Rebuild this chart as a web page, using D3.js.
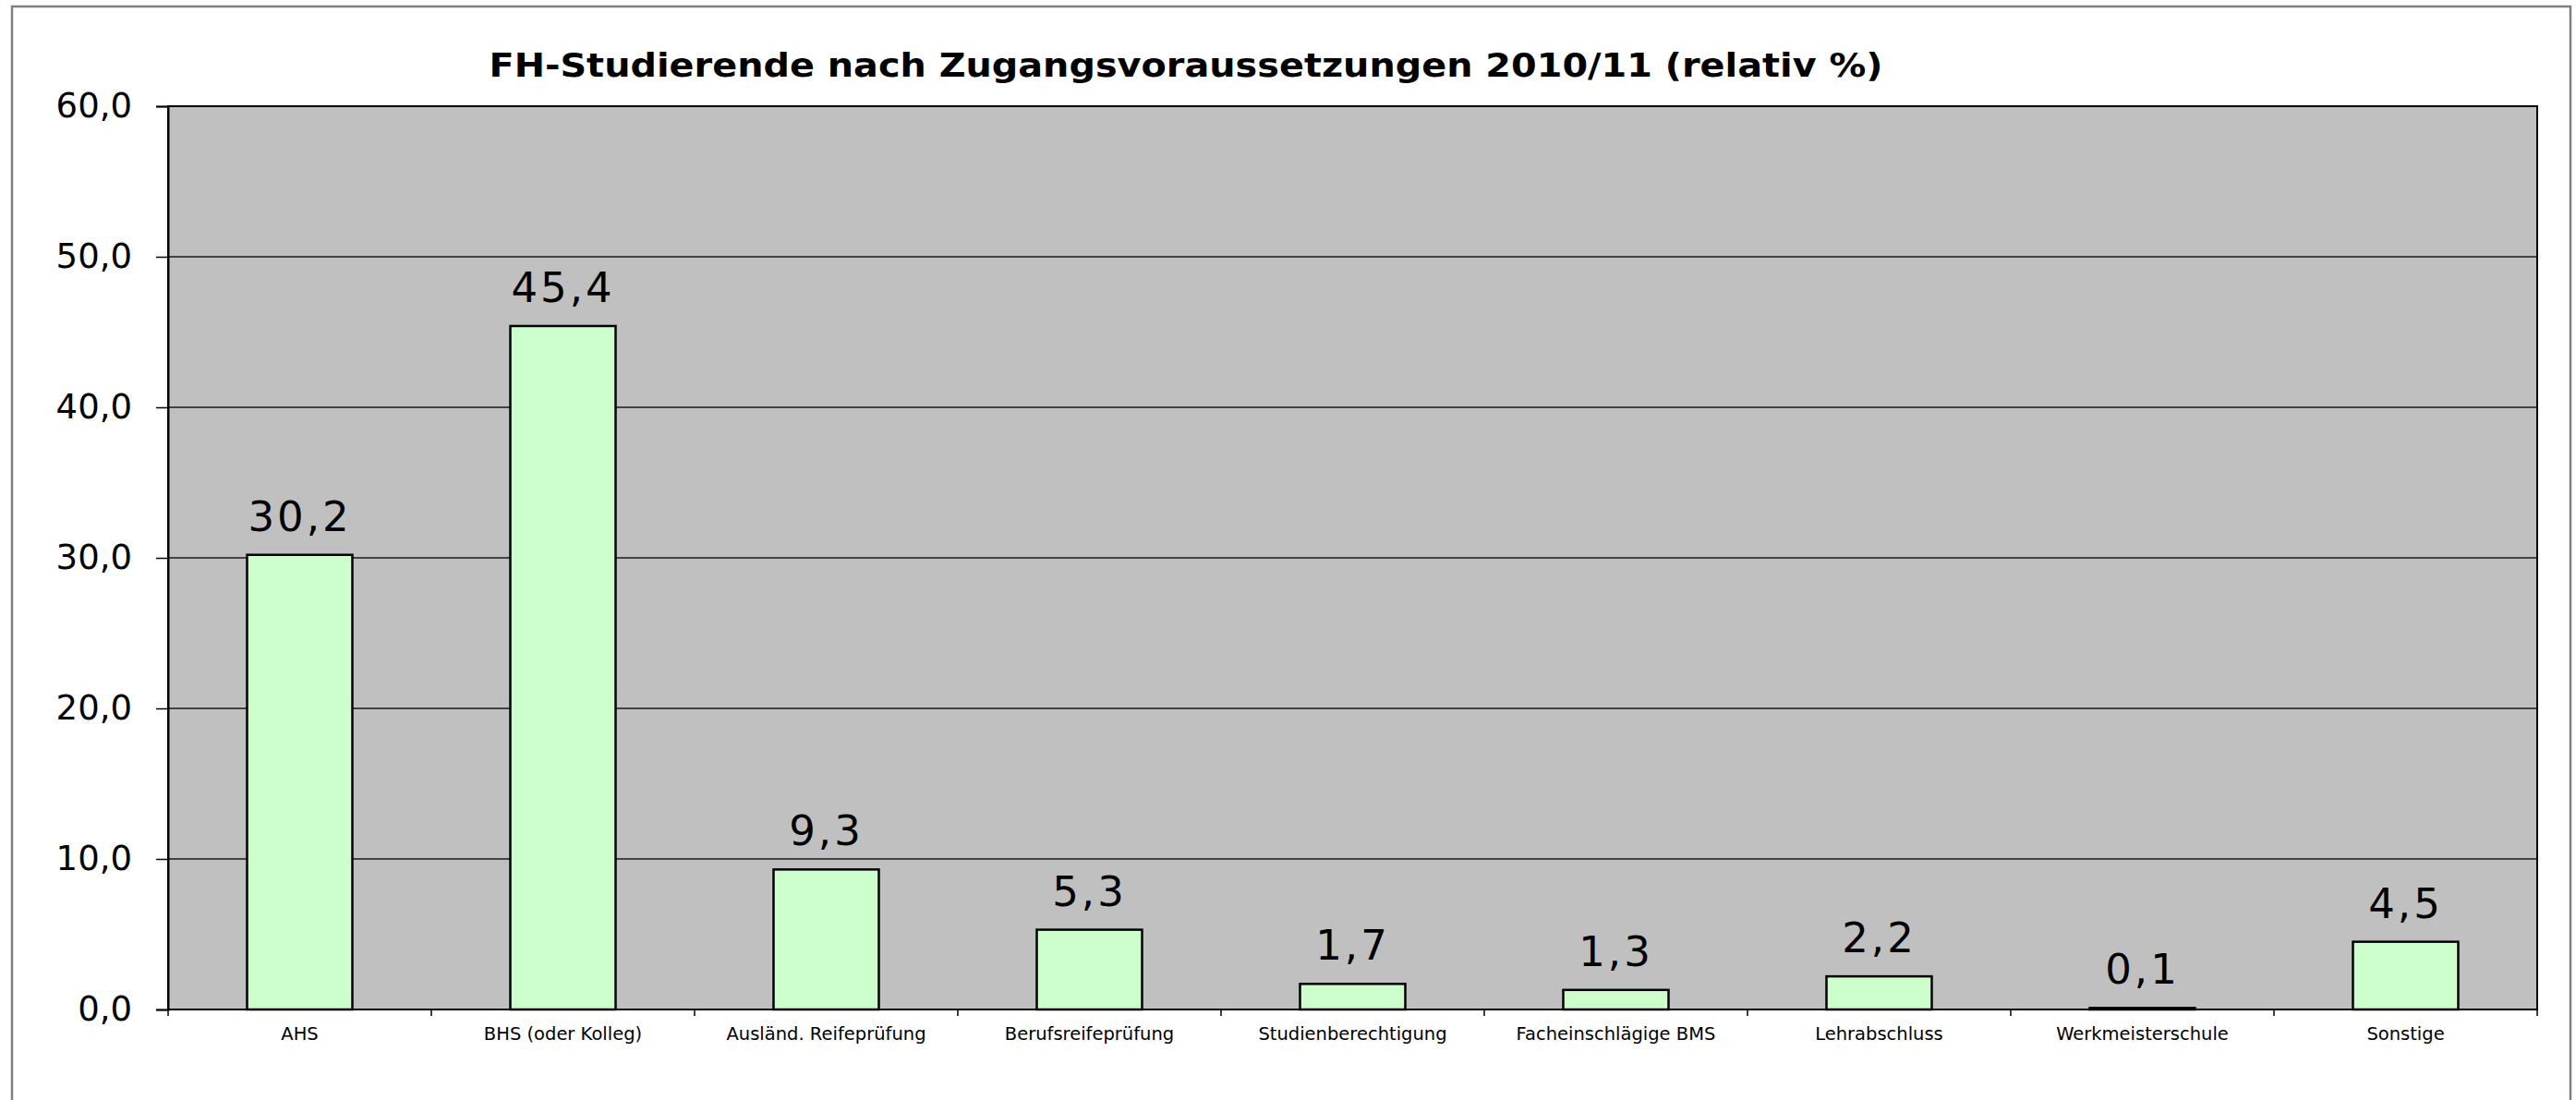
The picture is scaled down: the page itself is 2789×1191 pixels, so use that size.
<!DOCTYPE html>
<html>
<head>
<meta charset="utf-8">
<script src="https://cdn.jsdelivr.net/npm/d3@7"></script>
<style>
	body { margin: 0; background: #ffffff; }
	text { font-family: "DejaVu Sans", Verdana, sans-serif; fill: #000000; }
</style>
</head>
<body>
<div id="chart"></div>
<script>

// chart data

var categories = ["AHS", "BHS (oder Kolleg)", "Ausländ. Reifeprüfung", "Berufsreifeprüfung",
	"Studienberechtigung", "Facheinschlägige BMS", "Lehrabschluss", "Werkmeisterschule", "Sonstige"];

var values = [30.2, 45.4, 9.3, 5.3, 1.7, 1.3, 2.2, 0.1, 4.5];

var yTicks = [0, 10, 20, 30, 40, 50, 60];

var chartTitle = "FH-Studierende nach Zugangsvoraussetzungen 2010/11 (relativ %)";

// set size of entire chart area

var svgWidth = 2789;
var svgHeight = 1191;

// plot area position

var margin = {
	top: 115,
	right: 42,
	bottom: 98,
	left: 182
};

var width = svgWidth - margin.left - margin.right;
var height = svgHeight - margin.top - margin.bottom;

var svg = d3.select("#chart")
	.append("svg")
	.attr("width", svgWidth)
	.attr("height", svgHeight);

// outer chart border

svg.append("rect")
	.attr("x", 13)
	.attr("y", 7)
	.attr("width", 2770)
	.attr("height", 1200)
	.attr("fill", "none")
	.attr("stroke", "#808080")
	.attr("stroke-width", 2.5);

// title

var title = svg.append("text")
	.attr("x", 1284)
	.attr("y", 83)
	.attr("text-anchor", "middle")
	.style("font-size", "36px")
	.style("font-weight", "bold")
	.text(chartTitle);

// squeeze title to the width in the reference

title.attr("textLength", 1509).attr("lengthAdjust", "spacingAndGlyphs");

var chartGroup = svg.append("g")
	.attr("transform", `translate(${margin.left}, ${margin.top})`);

// scales

var xScale = d3.scaleBand()
	.domain(categories)
	.range([0, width])
	.paddingInner(0.6)
	.paddingOuter(0.3);

var yScale = d3.scaleLinear()
	.domain([0, 60])
	.range([height, 0]);

// plot background

chartGroup.append("rect")
	.attr("x", 0)
	.attr("y", 0)
	.attr("width", width)
	.attr("height", height)
	.attr("fill", "#c0c0c0");

// gridlines

chartGroup.append("g")
	.selectAll("line")
	.data(yTicks.slice(1))
	.enter()
	.append("line")
	.attr("x1", 0)
	.attr("x2", width)
	.attr("y1", d => yScale(d))
	.attr("y2", d => yScale(d))
	.attr("stroke", "#1a1a1a")
	.attr("stroke-width", 1.5);

// plot border

chartGroup.append("rect")
	.attr("x", 0)
	.attr("y", 0)
	.attr("width", width)
	.attr("height", height)
	.attr("fill", "none")
	.attr("stroke", "#000000")
	.attr("stroke-width", 2);

// y axis

var leftAxis = d3.axisLeft(yScale)
	.tickValues(yTicks)
	.tickSize(13)
	.tickPadding(26)
	.tickFormat(d => d3.format(".1f")(d).replace(".", ","));

var yAxis = chartGroup.append("g")
	.call(leftAxis);

yAxis.select(".domain").attr("stroke", "#000000").attr("stroke-width", 2);
yAxis.selectAll(".tick line").attr("stroke", "#000000").attr("stroke-width", 1.5);
yAxis.selectAll("text")
	.style("font-size", "37px")
	.attr("fill", "#000000");

// x axis, ticks sit between the categories

var bottomAxis = d3.axisBottom(xScale)
	.tickSize(0)
	.tickPadding(19);

var xAxis = chartGroup.append("g")
	.attr("transform", `translate(0, ${height})`)
	.call(bottomAxis);

xAxis.select(".domain").remove();
xAxis.selectAll("text")
	.style("font-size", "19.5px")
	.attr("fill", "#000000");

var step = xScale.step();

chartGroup.append("g")
	.selectAll("line")
	.data(d3.range(categories.length + 1))
	.enter()
	.append("line")
	.attr("x1", d => d * step)
	.attr("x2", d => d * step)
	.attr("y1", height)
	.attr("y2", height + 7)
	.attr("stroke", "#000000")
	.attr("stroke-width", 1.5);

chartGroup.append("line")
	.attr("x1", 0)
	.attr("x2", width)
	.attr("y1", height)
	.attr("y2", height)
	.attr("stroke", "#000000")
	.attr("stroke-width", 2);

// bars

chartGroup.selectAll(".bar")
	.data(values)
	.enter()
	.append("rect")
	.classed("bar", true)
	.attr("x", (d, i) => xScale(categories[i]))
	.attr("y", d => yScale(d))
	.attr("width", xScale.bandwidth())
	.attr("height", d => height - yScale(d))
	.attr("fill", "#ccffcc")
	.attr("stroke", "#000000")
	.attr("stroke-width", 2.5);

// value labels

chartGroup.selectAll(".valueLabel")
	.data(values)
	.enter()
	.append("text")
	.classed("valueLabel", true)
	.attr("x", (d, i) => xScale(categories[i]) + xScale.bandwidth() / 2)
	.attr("y", d => yScale(d) - 26)
	.attr("text-anchor", "middle")
	.style("font-size", "45px")
	.style("letter-spacing", "3px")
	.text(d => d3.format(".1f")(d).replace(".", ","));

</script>
</body>
</html>
